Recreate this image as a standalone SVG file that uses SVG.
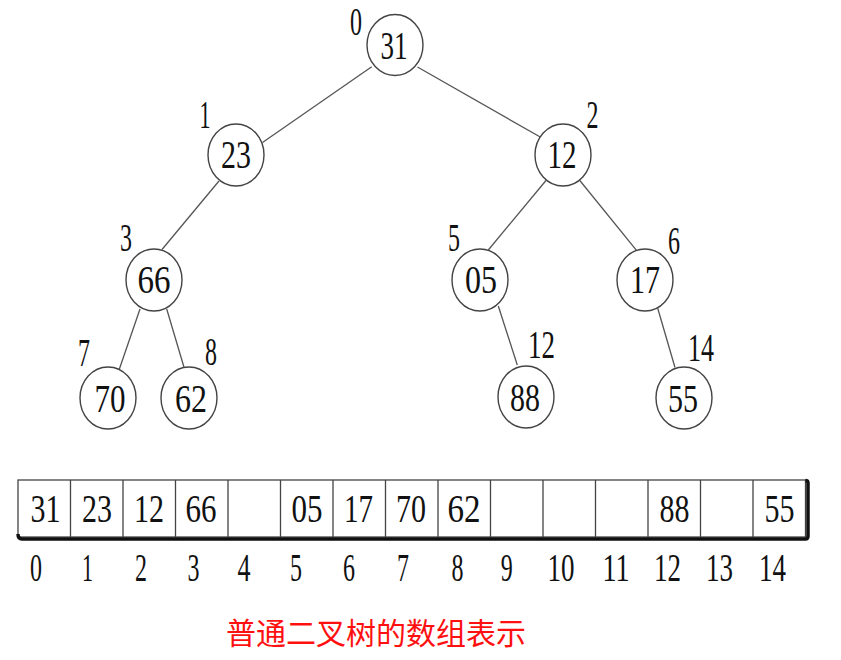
<svg xmlns="http://www.w3.org/2000/svg" width="841" height="660" viewBox="0 0 841 660">
<style>
.node ellipse{fill:#fff;stroke:#444;stroke-width:1.4}
.d{font-family:"Liberation Serif","Times New Roman",serif;font-size:40px;fill:#111;text-anchor:middle}
.edges line{stroke:#555;stroke-width:1.3}
.cell{fill:none;stroke:#444;stroke-width:1.3}
.cap{font-family:"Noto Sans CJK SC","Noto Sans",sans-serif;font-size:30px;fill:#ff1010;text-anchor:middle}
</style>
<rect width="841" height="660" fill="#fff"/>
<g id="connectors" class="edges">
<line x1="371.7" y1="66.7" x2="262.5" y2="142.5"/>
<line x1="417.5" y1="67" x2="540.7" y2="137.3"/>
<line x1="219" y1="181" x2="162" y2="249.5"/>
<line x1="546.4" y1="180" x2="488.3" y2="250"/>
<line x1="579.4" y1="180" x2="636.7" y2="250.7"/>
<line x1="140" y1="309" x2="119.3" y2="369.3"/>
<line x1="166.7" y1="309" x2="184" y2="367.3"/>
<line x1="498.3" y1="306" x2="517.3" y2="365"/>
<line x1="657.7" y1="308.3" x2="675" y2="367.5"/>
</g>
<g id="node0" class="node"><ellipse cx="395" cy="45" rx="28" ry="30.5"/><text class="d" x="394" y="59" textLength="27" lengthAdjust="spacingAndGlyphs">31</text><text class="d" x="356" y="35" font-size="36" textLength="12" lengthAdjust="spacingAndGlyphs">0</text></g>
<g id="node1" class="node"><ellipse cx="236" cy="155" rx="28" ry="31"/><text class="d" x="236" y="168" textLength="30" lengthAdjust="spacingAndGlyphs">23</text><text class="d" x="205" y="128" textLength="11" lengthAdjust="spacingAndGlyphs">1</text></g>
<g id="node2" class="node"><ellipse cx="563" cy="155" rx="28" ry="31"/><text class="d" x="562" y="168" textLength="29" lengthAdjust="spacingAndGlyphs">12</text><text class="d" x="592.5" y="128" textLength="12" lengthAdjust="spacingAndGlyphs">2</text></g>
<g id="node3" class="node"><ellipse cx="154" cy="280" rx="28" ry="31"/><text class="d" x="154" y="293" textLength="33" lengthAdjust="spacingAndGlyphs">66</text><text class="d" x="126" y="251" textLength="12" lengthAdjust="spacingAndGlyphs">3</text></g>
<g id="node5" class="node"><ellipse cx="480" cy="280" rx="28" ry="31"/><text class="d" x="481" y="293" textLength="32" lengthAdjust="spacingAndGlyphs">05</text><text class="d" x="454" y="251" textLength="12" lengthAdjust="spacingAndGlyphs">5</text></g>
<g id="node6" class="node"><ellipse cx="645" cy="280" rx="28" ry="31"/><text class="d" x="645" y="293" textLength="30" lengthAdjust="spacingAndGlyphs">17</text><text class="d" x="674" y="254" textLength="12" lengthAdjust="spacingAndGlyphs">6</text></g>
<g id="node7" class="node"><ellipse cx="108" cy="398" rx="28" ry="31"/><text class="d" x="110" y="412" textLength="31" lengthAdjust="spacingAndGlyphs">70</text><text class="d" x="84" y="366" textLength="12" lengthAdjust="spacingAndGlyphs">7</text></g>
<g id="node8" class="node"><ellipse cx="189" cy="398" rx="28" ry="31"/><text class="d" x="191" y="412" textLength="32" lengthAdjust="spacingAndGlyphs">62</text><text class="d" x="211" y="365" textLength="12" lengthAdjust="spacingAndGlyphs">8</text></g>
<g id="node12" class="node"><ellipse cx="526" cy="397" rx="28" ry="31"/><text class="d" x="525" y="411" textLength="30" lengthAdjust="spacingAndGlyphs">88</text><text class="d" x="541.5" y="358" textLength="27" lengthAdjust="spacingAndGlyphs">12</text></g>
<g id="node14" class="node"><ellipse cx="684" cy="398" rx="28" ry="31"/><text class="d" x="683" y="412" textLength="30" lengthAdjust="spacingAndGlyphs">55</text><text class="d" x="701" y="361" textLength="26" lengthAdjust="spacingAndGlyphs">14</text></g>
<g id="array">
<rect class="cell" x="18" y="480" width="787.5" height="57"/>
<path d="M70.5 480V537M123 480V537M175.5 480V537M228 480V537M280.5 480V537M333 480V537M385.5 480V537M438 480V537M490.5 480V537M543 480V537M595.5 480V537M648 480V537M700.5 480V537M753 480V537" stroke="#444" stroke-width="1.3" fill="none"/>
<path d="M18 534 Q18 539 22 539 H805.5 Q808 539 808 536 V483 Q808 480.5 805.5 480.5" stroke="#111" stroke-width="3.5" fill="none"/>
<g class="d">
<text x="45.5" y="522" textLength="30" lengthAdjust="spacingAndGlyphs">31</text>
<text x="97" y="522" textLength="30" lengthAdjust="spacingAndGlyphs">23</text>
<text x="149" y="522" textLength="30" lengthAdjust="spacingAndGlyphs">12</text>
<text x="201" y="522" textLength="31" lengthAdjust="spacingAndGlyphs">66</text>
<text x="307" y="522" textLength="31" lengthAdjust="spacingAndGlyphs">05</text>
<text x="358.5" y="522" textLength="29" lengthAdjust="spacingAndGlyphs">17</text>
<text x="411" y="522" textLength="30" lengthAdjust="spacingAndGlyphs">70</text>
<text x="464" y="522" textLength="33" lengthAdjust="spacingAndGlyphs">62</text>
<text x="674.5" y="522" textLength="30" lengthAdjust="spacingAndGlyphs">88</text>
<text x="779.5" y="522" textLength="30" lengthAdjust="spacingAndGlyphs">55</text>
</g>
<g class="d">
<text x="36" y="581" textLength="12" lengthAdjust="spacingAndGlyphs">0</text>
<text x="87.5" y="581" textLength="11" lengthAdjust="spacingAndGlyphs">1</text>
<text x="141" y="581" textLength="12" lengthAdjust="spacingAndGlyphs">2</text>
<text x="193.5" y="581" textLength="12" lengthAdjust="spacingAndGlyphs">3</text>
<text x="244" y="581" textLength="13" lengthAdjust="spacingAndGlyphs">4</text>
<text x="296" y="581" textLength="12" lengthAdjust="spacingAndGlyphs">5</text>
<text x="349" y="581" textLength="12" lengthAdjust="spacingAndGlyphs">6</text>
<text x="403" y="581" textLength="12" lengthAdjust="spacingAndGlyphs">7</text>
<text x="457.5" y="581" textLength="12" lengthAdjust="spacingAndGlyphs">8</text>
<text x="506.7" y="581" textLength="12" lengthAdjust="spacingAndGlyphs">9</text>
<text x="561" y="581" textLength="27" lengthAdjust="spacingAndGlyphs">10</text>
<text x="616" y="581" textLength="27" lengthAdjust="spacingAndGlyphs">11</text>
<text x="667.5" y="581" textLength="27" lengthAdjust="spacingAndGlyphs">12</text>
<text x="719.5" y="581" textLength="27" lengthAdjust="spacingAndGlyphs">13</text>
<text x="772.5" y="581" textLength="27" lengthAdjust="spacingAndGlyphs">14</text>
</g>
</g>
<text class="cap" x="376" y="644">普通二叉树的数组表示</text>
</svg>
